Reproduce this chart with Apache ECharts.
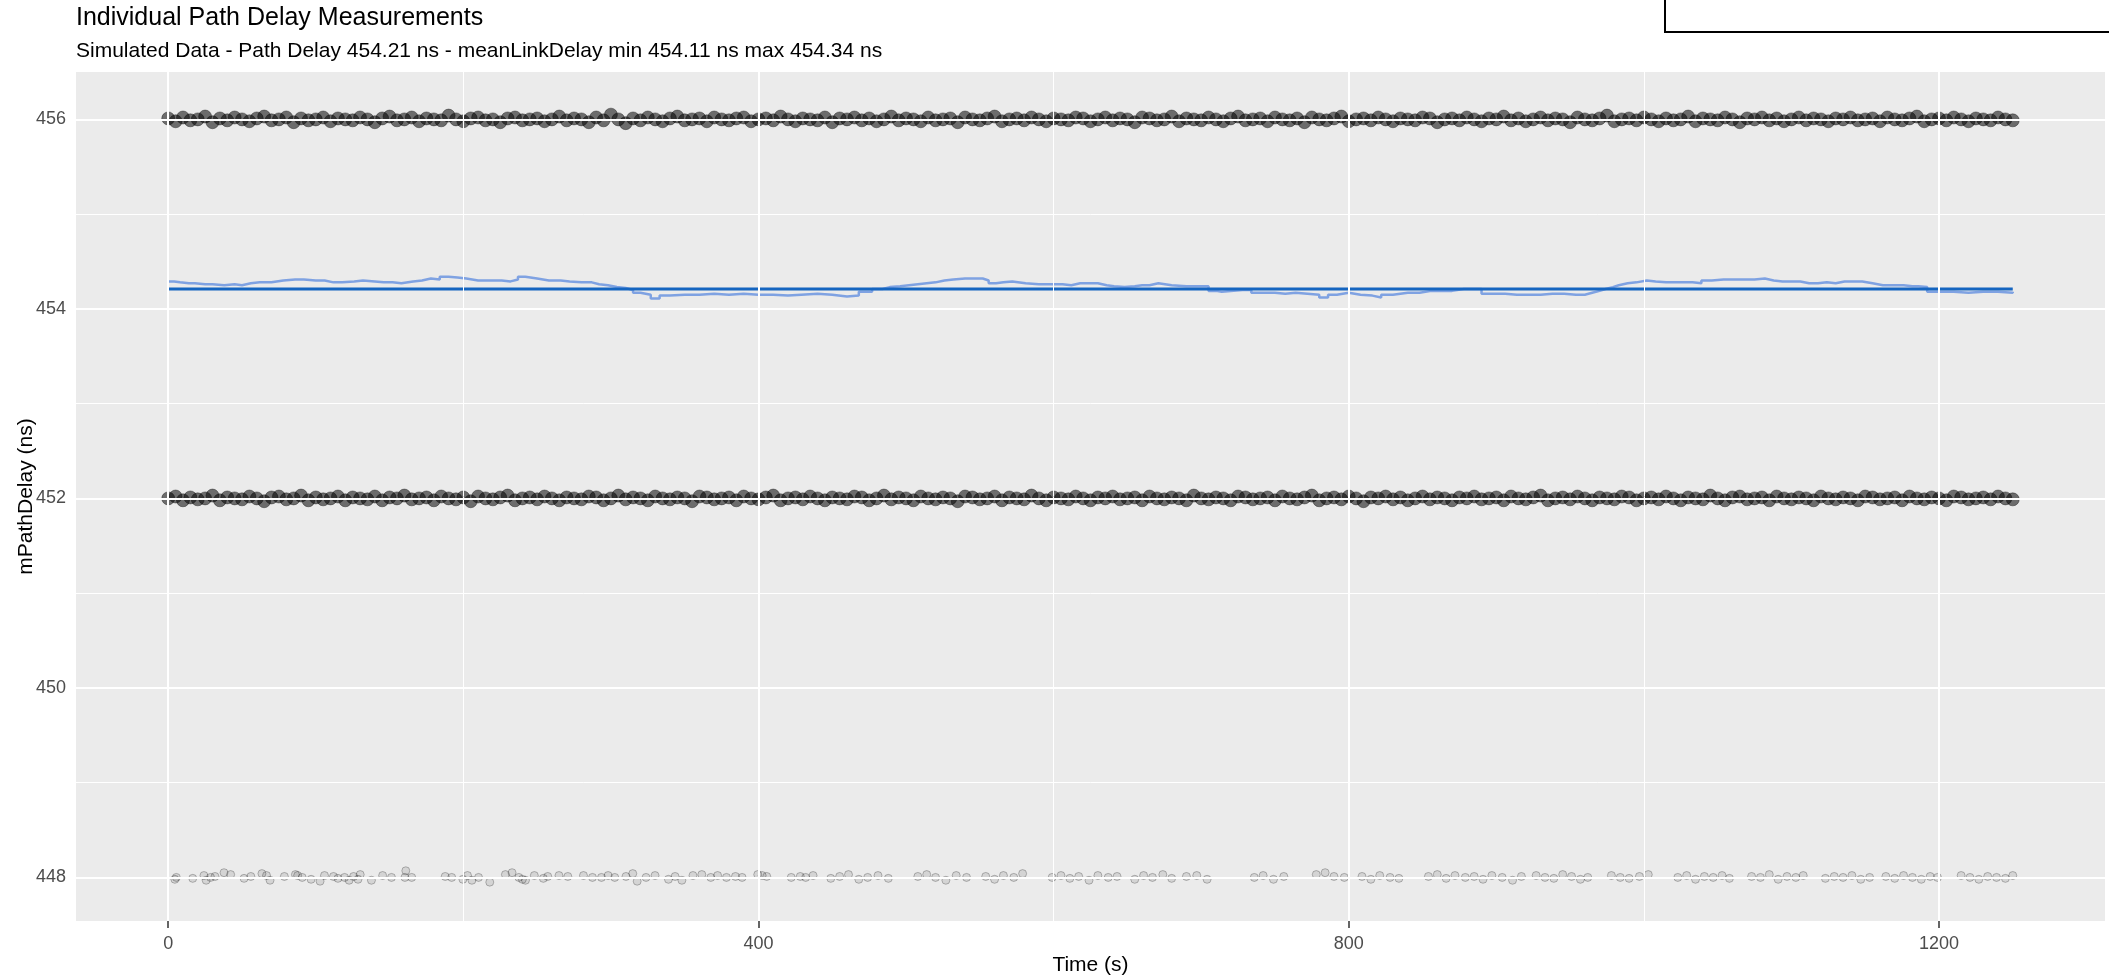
<!DOCTYPE html>
<html>
<head>
<meta charset="utf-8">
<title>Individual Path Delay Measurements</title>
<script src="https://cdn.jsdelivr.net/npm/echarts@6.0.0/dist/echarts.min.js"></script>
<style>
  html, body { margin: 0; padding: 0; background: #fff; }
  #chart { width: 2109px; height: 976px; }
</style>
</head>
<body>
<div id="chart"></div>
<script>
// tick labels / grid breaks
const xMajor = [0, 400, 800, 1200]
const xMinor = [200, 600, 1000]
const yMajor = [448, 450, 452, 454, 456]
const yMinor = [449, 451, 453, 455]

// measurements plotted every 5 s (dense bands at 456 and 452 ns)
const sampleStep = 5
const band456 = [
  456.01, 455.98, 456.02, 455.99, 456.00, 456.03, 455.97, 456.01, 455.99, 456.02, 456.00, 455.98, 456.01, 456.03, 455.99, 456.00, 456.02, 455.97, 456.01, 455.99, 456.00, 456.02, 455.98, 456.01, 456.00,
  455.99, 456.02, 456.00, 455.97, 456.01, 456.03, 455.99, 456.00, 456.02, 455.98, 456.01, 456.00, 455.99, 456.04, 456.00, 455.98, 456.01, 456.02, 455.99, 456.00, 455.97, 456.01, 456.02, 455.99, 456.00,
  456.01, 455.98, 456.00, 456.03, 455.99, 456.01, 456.00, 455.97, 456.02, 455.99, 456.05, 456.00, 455.96, 456.01, 455.99, 456.02, 456.00, 455.98, 456.01, 456.03, 455.99, 456.00, 456.01, 455.98, 456.02,
  456.00, 455.99, 456.01, 456.02, 455.98, 456.00, 456.01, 455.99, 456.03, 456.00, 455.98, 456.01, 456.00, 455.99, 456.02, 455.97, 456.01, 456.00, 456.02, 455.99, 456.01, 455.98, 456.00, 456.03, 455.99,
  456.01, 456.00, 455.98, 456.02, 455.99, 456.00, 456.01, 455.97, 456.02, 456.00, 455.99, 456.01, 456.03, 455.98, 456.00, 456.01, 455.99, 456.02, 456.00, 455.98, 456.01, 456.00, 455.99, 456.02, 456.01,
  455.98, 456.00, 456.02, 455.99, 456.01, 456.00, 455.97, 456.02, 456.01, 455.99, 456.00, 456.03, 455.98, 456.01, 456.00, 455.99, 456.02, 456.00, 455.98, 456.01, 456.03, 455.99, 456.00, 456.01, 455.98,
  456.02, 456.00, 455.99, 456.01, 455.97, 456.02, 456.00, 455.99, 456.01, 456.03, 455.98, 456.00, 456.01, 455.99, 456.02, 456.00, 455.98, 456.01, 456.00, 455.99, 456.02, 456.01, 455.97, 456.00, 456.01,
  455.99, 456.02, 456.00, 455.98, 456.01, 456.00, 456.03, 455.99, 456.01, 455.98, 456.00, 456.02, 455.99, 456.01, 456.00, 455.97, 456.02, 456.00, 455.99, 456.01, 456.04, 455.98, 456.00, 456.01, 455.99,
  456.02, 456.00, 455.98, 456.01, 455.99, 456.00, 456.03, 455.98, 456.01, 456.00, 455.99, 456.02, 456.00, 455.97, 456.01, 456.00, 456.02, 455.99, 456.01, 455.98, 456.00, 456.02, 455.99, 456.01, 456.00,
  455.98, 456.01, 456.00, 456.02, 455.99, 456.00, 456.01, 455.98, 456.02, 456.00, 455.99, 456.01, 456.03, 455.98, 456.00, 456.01, 455.99, 456.02, 456.00, 455.98, 456.01, 456.00, 455.99, 456.02, 456.00,
  455.99
]
const band452 = [
  452.00, 452.02, 451.98, 452.01, 451.99, 452.00, 452.03, 451.98, 452.01, 452.00, 451.99, 452.02, 452.00, 451.97, 452.01, 452.02, 451.99, 452.00, 452.03, 451.98, 452.01, 451.99, 452.00, 452.02, 451.98,
  452.01, 452.00, 451.99, 452.02, 451.98, 452.01, 452.00, 452.03, 451.99, 452.00, 452.01, 451.98, 452.02, 452.00, 451.99, 452.01, 451.97, 452.02, 452.00, 451.99, 452.01, 452.03, 451.98, 452.00, 452.01,
  451.99, 452.02, 452.00, 451.98, 452.01, 452.00, 451.99, 452.02, 452.01, 451.98, 452.00, 452.03, 451.99, 452.01, 452.00, 451.98, 452.02, 452.00, 451.99, 452.01, 452.00, 451.97, 452.02, 452.01, 451.99,
  452.00, 452.01, 451.98, 452.02, 452.00, 451.99, 452.01, 452.03, 451.98, 452.00, 452.01, 451.99, 452.02, 452.00, 451.98, 452.01, 452.00, 451.99, 452.02, 452.01, 451.98, 452.00, 452.03, 451.99, 452.01,
  452.00, 451.98, 452.02, 452.00, 451.99, 452.01, 452.00, 451.97, 452.02, 452.01, 451.99, 452.00, 452.02, 451.98, 452.01, 452.00, 451.99, 452.03, 452.00, 451.98, 452.01, 452.00, 451.99, 452.02, 452.00,
  451.98, 452.01, 452.00, 452.02, 451.99, 452.00, 452.01, 451.98, 452.02, 452.00, 451.99, 452.01, 452.00, 451.98, 452.03, 452.00, 451.99, 452.01, 452.00, 451.98, 452.02, 452.01, 451.99, 452.00, 452.01,
  451.98, 452.02, 452.00, 451.99, 452.01, 452.03, 451.98, 452.00, 452.01, 451.99, 452.02, 452.00, 451.97, 452.01, 452.00, 452.02, 451.99, 452.01, 451.98, 452.00, 452.02, 451.99, 452.01, 452.00, 451.98,
  452.01, 452.00, 452.02, 451.99, 452.00, 452.01, 451.98, 452.02, 452.00, 451.99, 452.01, 452.03, 451.98, 452.00, 452.01, 451.99, 452.02, 452.00, 451.98, 452.01, 452.00, 451.99, 452.02, 452.01, 451.98,
  452.00, 452.01, 451.99, 452.02, 452.00, 451.98, 452.01, 452.00, 451.99, 452.03, 452.00, 451.98, 452.01, 452.02, 451.99, 452.00, 452.01, 451.98, 452.02, 452.00, 451.99, 452.01, 452.00, 451.98, 452.02,
  452.00, 451.99, 452.01, 452.00, 451.98, 452.02, 452.01, 451.99, 452.00, 452.01, 451.98, 452.02, 452.00, 451.99, 452.01, 452.00, 451.98, 452.02, 452.01, 451.99, 452.00, 452.01, 451.99, 452.02, 452.00,
  451.99
]

// sparse measurements at 448 ns: [time s, delay ns]
const band448 = [
  [4.5, 447.98], [5.5, 448.00], [16.6, 447.99], [24.2, 448.02], [25.7, 447.97], [28.7, 448.00], [31.7, 448.01], [37.8, 448.05], [42.3, 448.03],
  [51.4, 447.99], [56, 448.01], [63.5, 448.04], [66.6, 448.02], [69, 447.97], [78.7, 448.01], [86.2, 448.03], [87.7, 448.02], [90.8, 448.00],
  [96.8, 447.98], [102.9, 447.96], [105.9, 448.02], [112, 448.01], [115, 447.99], [119.5, 448.00], [122.6, 447.97], [125.6, 448.01], [128.6, 447.98],
  [130.1, 448.03], [137.7, 447.97], [145.3, 448.02], [151.3, 448.00], [160.4, 448.00], [161, 448.07], [165, 448.00], [187.7, 448.01], [192.1, 448.00],
  [199.7, 447.98], [202.8, 448.02], [205.8, 447.97], [210.3, 448.00], [217.9, 447.95], [228.5, 448.03], [233, 448.05], [237.6, 448.00], [240, 447.98],
  [242.1, 447.97], [248.1, 448.02], [254.2, 447.99], [257.2, 448.01], [264.8, 448.02], [270.8, 448.01], [281.4, 448.02], [287.5, 448.00], [293.6, 448.00],
  [298.1, 448.02], [302.6, 448.00], [310.2, 448.01], [314.8, 448.04], [317.8, 447.96], [323.8, 448.00], [329.9, 448.02], [339, 447.98], [343.5, 448.01],
  [348.1, 447.97], [355.6, 448.02], [361.6, 448.03], [367.7, 448.00], [372.3, 448.02], [378.3, 448.00], [384.4, 448.01], [388.9, 448.00], [399.5, 448.03],
  [402.5, 448.02], [405.6, 448.01], [422.2, 448.00], [428.3, 448.01], [432, 448.00], [437, 448.02], [449, 447.99], [455, 448.01], [461, 448.03],
  [468, 447.98], [474, 448.00], [481, 448.02], [488, 447.99], [508, 448.01], [514, 448.03], [520, 448.00], [527, 447.97], [534, 448.02],
  [541, 448.00], [554, 448.01], [560, 447.98], [566, 448.02], [573, 448.00], [579, 448.04], [599, 448.00], [605, 448.02], [611, 447.99],
  [617, 448.01], [624, 447.97], [630, 448.02], [637, 448.00], [643, 448.01], [655, 447.98], [661, 448.02], [667, 448.00], [674, 448.03],
  [680, 447.99], [690, 448.01], [697, 448.02], [704, 447.98], [736, 448.00], [742, 448.02], [749, 447.98], [756, 448.01], [778, 448.03],
  [784, 448.05], [790, 448.01], [797, 448.00], [809, 448.01], [815, 447.98], [821, 448.02], [828, 448.00], [834, 447.99], [854, 448.01],
  [860, 448.03], [866, 447.99], [872, 448.02], [879, 448.00], [885, 448.01], [891, 447.98], [897, 448.02], [904, 448.00], [911, 447.97],
  [917, 448.01], [927, 448.02], [933, 448.00], [939, 447.99], [945, 448.03], [951, 448.01], [957, 447.98], [962, 448.00], [978, 448.02],
  [984, 448.00], [990, 447.99], [997, 448.01], [1003, 448.03], [1023, 448.00], [1029, 448.02], [1035, 447.98], [1041, 448.01], [1047, 448.00],
  [1053, 448.02], [1058, 447.99], [1073, 448.01], [1079, 448.00], [1085, 448.03], [1091, 447.98], [1097, 448.01], [1103, 448.00], [1108, 448.02],
  [1123, 447.99], [1129, 448.01], [1135, 448.00], [1141, 448.02], [1147, 447.98], [1153, 448.00], [1164, 448.01], [1170, 447.99], [1176, 448.02],
  [1182, 448.00], [1188, 447.98], [1194, 448.01], [1199, 448.00], [1215, 448.02], [1221, 448.00], [1227, 447.98], [1233, 448.01], [1239, 448.00],
  [1245, 447.99], [1250, 448.02]
]

// meanLinkDelay (moving) : [time s, delay ns]
const meanLinkDelay = [
  [0, 454.29], [4, 454.28], [8, 454.27], [14, 454.27], [18, 454.26], [25, 454.26], [30, 454.25], [38, 454.26], [45, 454.25], [50, 454.27],
  [56, 454.28], [62, 454.28], [70, 454.30], [78, 454.31], [86, 454.31], [92, 454.30], [100, 454.30], [106, 454.28], [112, 454.28], [118, 454.29],
  [126, 454.30], [132, 454.29], [140, 454.28], [146, 454.28], [152, 454.27], [158, 454.29], [166, 454.30], [172, 454.32], [178, 454.31], [184, 454.34],
  [190, 454.33], [196, 454.32], [202, 454.30], [210, 454.30], [218, 454.30], [226, 454.29], [232, 454.31], [237, 454.34], [242, 454.32], [250, 454.30],
  [258, 454.30], [266, 454.29], [272, 454.28], [280, 454.28], [287, 454.26], [292, 454.25], [298, 454.23], [304, 454.22], [310, 454.20], [315, 454.17],
  [320, 454.15], [327, 454.11], [333, 454.14], [340, 454.15], [350, 454.15], [360, 454.16], [370, 454.15], [380, 454.16], [390, 454.15], [400, 454.15],
  [410, 454.14], [420, 454.15], [429, 454.16], [440, 454.15], [450, 454.13], [460, 454.14], [468, 454.18], [477, 454.21], [484, 454.23], [489, 454.24],
  [496, 454.25], [502, 454.26], [508, 454.27], [514, 454.28], [520, 454.30], [526, 454.31], [532, 454.32], [540, 454.32], [547, 454.32], [552, 454.30],
  [556, 454.27], [561, 454.28], [566, 454.29], [572, 454.27], [581, 454.26], [590, 454.26], [599, 454.26], [606, 454.25], [612, 454.27], [618, 454.27],
  [623, 454.27], [630, 454.25], [636, 454.24], [641, 454.23], [648, 454.24], [655, 454.25], [660, 454.25], [665, 454.27], [671, 454.25], [680, 454.24],
  [690, 454.24], [698, 454.24], [705, 454.19], [710, 454.18], [714, 454.19], [720, 454.20], [728, 454.20], [734, 454.17], [742, 454.17], [750, 454.16],
  [757, 454.17], [764, 454.16], [772, 454.15], [780, 454.12], [786, 454.15], [792, 454.17], [800, 454.15], [808, 454.14], [816, 454.12], [822, 454.15],
  [830, 454.17], [840, 454.17], [848, 454.19], [856, 454.19], [864, 454.19], [870, 454.21], [878, 454.21], [885, 454.21], [890, 454.16], [898, 454.16],
  [906, 454.15], [914, 454.15], [922, 454.15], [930, 454.16], [938, 454.16], [946, 454.15], [954, 454.15], [960, 454.17], [965, 454.19], [970, 454.21],
  [974, 454.23], [979, 454.25], [983, 454.27], [989, 454.28], [995, 454.30], [1002, 454.29], [1008, 454.28], [1015, 454.28], [1022, 454.28], [1028, 454.28],
  [1033, 454.27], [1039, 454.30], [1046, 454.31], [1054, 454.31], [1062, 454.31], [1069, 454.31], [1075, 454.32], [1082, 454.30], [1088, 454.29], [1094, 454.29],
  [1100, 454.29], [1106, 454.27], [1112, 454.27], [1118, 454.28], [1124, 454.27], [1130, 454.29], [1136, 454.29], [1142, 454.29], [1148, 454.27], [1155, 454.25],
  [1162, 454.25], [1170, 454.25], [1176, 454.24], [1182, 454.24], [1186, 454.23], [1192, 454.18], [1200, 454.18], [1210, 454.17], [1220, 454.18], [1230, 454.18],
  [1240, 454.17], [1250, 454.18]
]

// path delay (constant) over the measurement span
const pathDelay = 454.21
const pathDelaySpan = [0, 1250]

const font = 'Liberation Sans, Arial, sans-serif'
const dense = {
  symbolSize: 13,
  itemStyle: { color: 'rgba(0,0,0,0.68)', borderColor: 'rgba(0,0,0,0.45)', borderWidth: 1 }
}

const gridLines = []
xMajor.forEach(v => gridLines.push({ xAxis: v, lineStyle: { color: '#fff', width: 2, type: 'solid' } }))
xMinor.forEach(v => gridLines.push({ xAxis: v, lineStyle: { color: '#fff', width: 1, type: 'solid' } }))
yMajor.forEach(v => gridLines.push({ yAxis: v, lineStyle: { color: '#fff', width: 2, type: 'solid' } }))
yMinor.forEach(v => gridLines.push({ yAxis: v, lineStyle: { color: '#fff', width: 1, type: 'solid' } }))

const chart = echarts.init(document.getElementById('chart'))
chart.setOption({
  animation: false,
  textStyle: { fontFamily: font },
  title: [
    {
      text: 'Individual Path Delay Measurements',
      left: 76, top: 6, padding: 0,
      textStyle: { fontFamily: font, fontSize: 25, fontWeight: 'normal', color: '#000' }
    },
    {
      text: 'Simulated Data - Path Delay 454.21 ns - meanLinkDelay min 454.11 ns max 454.34 ns',
      left: 76, top: 41, padding: 0,
      textStyle: { fontFamily: font, fontSize: 21, fontWeight: 'normal', color: '#000' }
    }
  ],
  graphic: [
    {
      type: 'rect',
      shape: { x: 1665, y: -10, width: 500, height: 42 },
      style: { fill: '#fff', stroke: '#000', lineWidth: 2 }
    }
  ],
  grid: {
    left: 76, top: 72, right: 4, bottom: 55,
    outerBoundsMode: 'none',
    containLabel: false,
    show: true, backgroundColor: '#EBEBEB', borderWidth: 0
  },
  xAxis: {
    type: 'value',
    min: -62.5, max: 1312.5,
    name: 'Time (s)', nameLocation: 'middle', nameGap: 34, nameMoveOverlap: false,
    nameTextStyle: { fontFamily: font, fontSize: 21, color: '#000' },
    axisLine: { show: false },
    axisTick: { show: true, customValues: xMajor, length: 7, lineStyle: { color: '#333', width: 1.5 } },
    axisLabel: { customValues: xMajor, margin: 14, fontSize: 18, color: '#4D4D4D', fontFamily: font, formatter: v => String(v) },
    splitLine: { show: false }
  },
  yAxis: {
    type: 'value',
    min: 447.54, max: 456.5,
    name: 'mPathDelay (ns)', nameLocation: 'middle', nameGap: 39, nameRotate: 90, nameMoveOverlap: false,
    nameTextStyle: { fontFamily: font, fontSize: 21, color: '#000' },
    axisLine: { show: false },
    axisTick: { show: true, customValues: yMajor, length: 7, lineStyle: { color: '#333', width: 1.5 } },
    axisLabel: { customValues: yMajor, margin: 10, fontSize: 18, color: '#4D4D4D', fontFamily: font, formatter: v => String(v) },
    splitLine: { show: false }
  },
  series: [
    {
      name: 'grid',
      type: 'line',
      data: [],
      z: 1,
      silent: true,
      markLine: { silent: true, symbol: 'none', label: { show: false }, animation: false, data: gridLines }
    },
    {
      name: '456',
      type: 'scatter',
      z: 2,
      data: band456.map((v, i) => [i * sampleStep, v]),
      ...dense
    },
    {
      name: '452',
      type: 'scatter',
      z: 2,
      data: band452.map((v, i) => [i * sampleStep, v]),
      ...dense
    },
    {
      name: '448',
      type: 'scatter',
      z: 2,
      data: band448,
      symbolSize: 8,
      itemStyle: { color: 'rgba(0,0,0,0.12)', borderColor: 'rgba(0,0,0,0.3)', borderWidth: 1 }
    },
    {
      name: 'meanLinkDelay',
      type: 'line',
      z: 3,
      data: meanLinkDelay,
      step: 'end',
      showSymbol: false,
      lineStyle: { color: '#7FA2E2', width: 2.5 }
    },
    {
      name: 'Path Delay',
      type: 'line',
      z: 4,
      data: pathDelaySpan.map(t => [t, pathDelay]),
      showSymbol: false,
      lineStyle: { color: '#1565C0', width: 3 }
    }
  ]
})
</script>
</body>
</html>
